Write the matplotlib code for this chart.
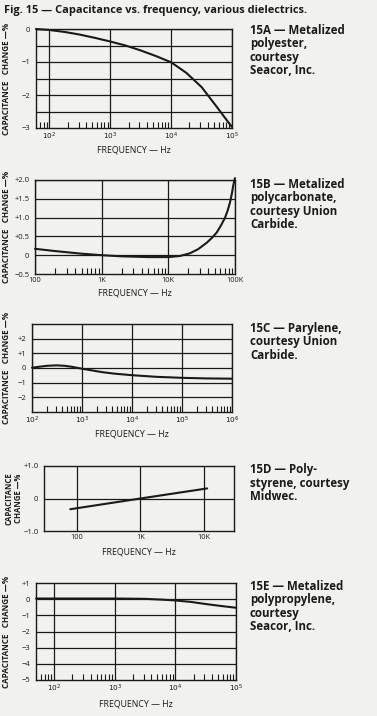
import matplotlib
matplotlib.use("Agg")
import matplotlib.pyplot as plt
from matplotlib.ticker import FixedLocator, NullFormatter, NullLocator
import numpy as np

W, H = 377, 716
BG = "#f1f1ef"
INK = "#1a1a1a"

# ---------------- data ----------------
titleText = "Fig. 15 — Capacitance vs. frequency, various dielectrics."

# 15A metalized polyester
a_freq = [60, 100, 178, 316, 562, 1000, 1778, 3162, 5623, 10000, 17783, 31623, 56234,
          79433, 100000]
a_chg = [0.0, -0.03, -0.09, -0.17, -0.27, -0.38, -0.5, -0.65, -0.82, -1.01, -1.33, -1.76,
         -2.36, -2.73, -2.97]
a_caption = "15A — Metalized\npolyester,\ncourtesy\nSeacor, Inc."
a_xticks = [100, 1000, 10000, 100000]
a_xlabels = ["$10^2$", "$10^3$", "$10^4$", "$10^5$"]
a_yticks = [0, -1, -2, -3]
a_ylabels = ["0", "−1", "−2", "−3"]

# 15B metalized polycarbonate
b_freq = [100, 200, 500, 1000, 2000, 5000, 10000, 15000, 21000, 28000, 37600, 45000,
          53000, 62000, 71000, 78000, 84000, 90000, 94000, 100000]
b_chg = [0.17, 0.11, 0.04, 0.0, -0.03, -0.05, -0.05, -0.02, 0.05, 0.16, 0.33, 0.46,
         0.6, 0.8, 1.0, 1.2, 1.4, 1.65, 1.85, 2.05]
b_caption = "15B — Metalized\npolycarbonate,\ncourtesy Union\nCarbide."
b_xticks = [100, 1000, 10000, 100000]
b_xlabels = ["100", "1K", "10K", "100K"]
b_yticks = [2.0, 1.5, 1.0, 0.5, 0, -0.5]
b_ylabels = ["+2.0", "+1.5", "+1.0", "+0.5", "0", "−0.5"]

# 15C parylene
c_freq = [100, 150, 200, 316, 450, 630, 1000, 1500, 2500, 4300, 10000, 30000,
          100000, 300000, 1000000]
c_chg = [0.02, 0.1, 0.15, 0.18, 0.15, 0.08, -0.05, -0.15, -0.28, -0.38, -0.49, -0.6,
         -0.67, -0.71, -0.73]
c_caption = "15C — Parylene,\ncourtesy Union\nCarbide."
c_xticks = [100, 1000, 10000, 100000, 1000000]
c_xlabels = ["$10^2$", "$10^3$", "$10^4$", "$10^5$", "$10^6$"]
c_yticks = [2, 1, 0, -1, -2]
c_ylabels = ["+2", "+1", "0", "−1", "−2"]

# 15D polystyrene
d_freq = [78, 1000, 11300]
d_chg = [-0.33, 0.0, 0.31]
d_caption = "15D — Poly-\nstyrene, courtesy\nMidwec."
d_xticks = [100, 1000, 10000]
d_xlabels = ["100", "1K", "10K"]
d_yticks = [1.0, 0, -1.0]
d_ylabels = ["+1.0", "0", "−1.0"]

# 15E metalized polypropylene
e_freq = [50, 100, 1000, 3160, 6000, 10000, 18000, 31600, 56000, 100000]
e_chg = [0.04, 0.04, 0.04, 0.02, -0.03, -0.08, -0.17, -0.3, -0.42, -0.53]
e_caption = "15E — Metalized\npolypropylene,\ncourtesy\nSeacor, Inc."
e_xticks = [100, 1000, 10000, 100000]
e_xlabels = ["$10^2$", "$10^3$", "$10^4$", "$10^5$"]
e_yticks = [1, 0, -1, -2, -3, -4, -5]
e_ylabels = ["+1", "0", "−1", "−2", "−3", "−4", "−5"]

ylab = "CAPACITANCE   CHANGE —%"
xlab = "FREQUENCY — Hz"

# ---------------- figure ----------------
plt.rcParams["font.family"] = ["Open Sans", "DejaVu Sans"]
plt.rcParams["mathtext.fontset"] = "dejavusans"
fig = plt.figure(figsize=(W / 100, H / 100), dpi=100, facecolor=BG)


def px_axes(l, t, r, b):
    return fig.add_axes([l / W, 1 - b / H, (r - l) / W, (b - t) / H])


def panel(box, freq, chg, xlim, ylim, xticks, xlabels, yticks, ylabels, ygrid,
          caption, cap_y, ylab_x, xlab_y, ylabel=ylab, minor=True, yl_size=5.8):
    ax = px_axes(*box)
    ax.set_facecolor(BG)
    ax.set_xscale("log")
    ax.set_xlim(*xlim)
    ax.set_ylim(*ylim)
    ax.plot(freq, chg, color=INK, lw=1.5, solid_capstyle="round", solid_joinstyle="round",
            clip_on=False)
    for y in ygrid:
        ax.axhline(y, color=INK, lw=0.9, zorder=0)
    for x in xticks:
        ax.axvline(x, color=INK, lw=0.9, zorder=0)
    for s in ax.spines.values():
        s.set_color(INK)
        s.set_linewidth(1.0)
    ax.xaxis.set_major_locator(FixedLocator(xticks))
    ax.set_xticklabels(xlabels, fontsize=5.3, color=INK)
    if minor:
        mins = []
        lo, hi = xlim
        dec = 10 ** np.floor(np.log10(lo))
        while dec < hi:
            for m in range(2, 10):
                v = m * dec
                if lo < v < hi:
                    mins.append(v)
            dec *= 10
        ax.xaxis.set_minor_locator(FixedLocator(mins))
    else:
        ax.xaxis.set_minor_locator(NullLocator())
    ax.xaxis.set_minor_formatter(NullFormatter())
    ax.tick_params(axis="x", which="major", length=0, pad=2)
    ax.tick_params(axis="x", which="minor", direction="in", length=4, width=0.8, color=INK)
    ax.yaxis.set_major_locator(FixedLocator(yticks))
    ax.set_yticklabels(ylabels, fontsize=5.5, color=INK)
    ax.yaxis.set_minor_locator(NullLocator())
    ax.tick_params(axis="y", length=0, pad=4)
    cx = (box[0] + box[2]) / 2
    fig.text(cx / W, 1 - xlab_y / H, xlab, ha="center", va="center",
             fontsize=6.3, color=INK)
    cy = (box[1] + box[3]) / 2
    fig.text(ylab_x / W, 1 - cy / H, ylabel, rotation=90, ha="center", va="center",
             fontsize=yl_size, fontweight="bold", color=INK, linespacing=1.0)
    fig.text(250 / W, 1 - cap_y / H, caption, ha="left", va="top",
             fontsize=8.3, fontweight="bold", color=INK, linespacing=1.05)
    return ax


fig.text(4 / W, 1 - 10 / H, titleText, ha="left", va="center",
         fontsize=7.9, fontweight="bold", color=INK)

panel((36, 29, 232, 128), a_freq, a_chg, (60, 100000), (-3, 0), a_xticks, a_xlabels,
      a_yticks, a_ylabels, np.arange(-2.5, 0.01, 0.5), a_caption, 24, 7, 150)

panel((35, 180, 235, 274), b_freq, b_chg, (100, 100000), (-0.5, 2.0), b_xticks, b_xlabels,
      b_yticks, b_ylabels, np.arange(0, 2.01, 0.5), b_caption, 178, 7, 293)

panel((32, 324, 232, 412), c_freq, c_chg, (100, 1000000), (-3, 3), c_xticks, c_xlabels,
      c_yticks, c_ylabels, [2, 1, 0, -1, -2], c_caption, 322, 7, 434)

panel((44, 466, 234, 531), d_freq, d_chg, (30, 30000), (-1, 1), d_xticks, d_xlabels,
      d_yticks, d_ylabels, [0], d_caption, 463, 14, 552,
      ylabel="CAPACITANCE\nCHANGE —%", minor=False, yl_size=5.6)

panel((36, 583, 236, 680), e_freq, e_chg, (50, 100000), (-5, 1), e_xticks, e_xlabels,
      e_yticks, e_ylabels, [0, -1, -2, -3, -4], e_caption, 580, 7, 704)

fig.savefig("out.png", dpi=100, facecolor=BG)
